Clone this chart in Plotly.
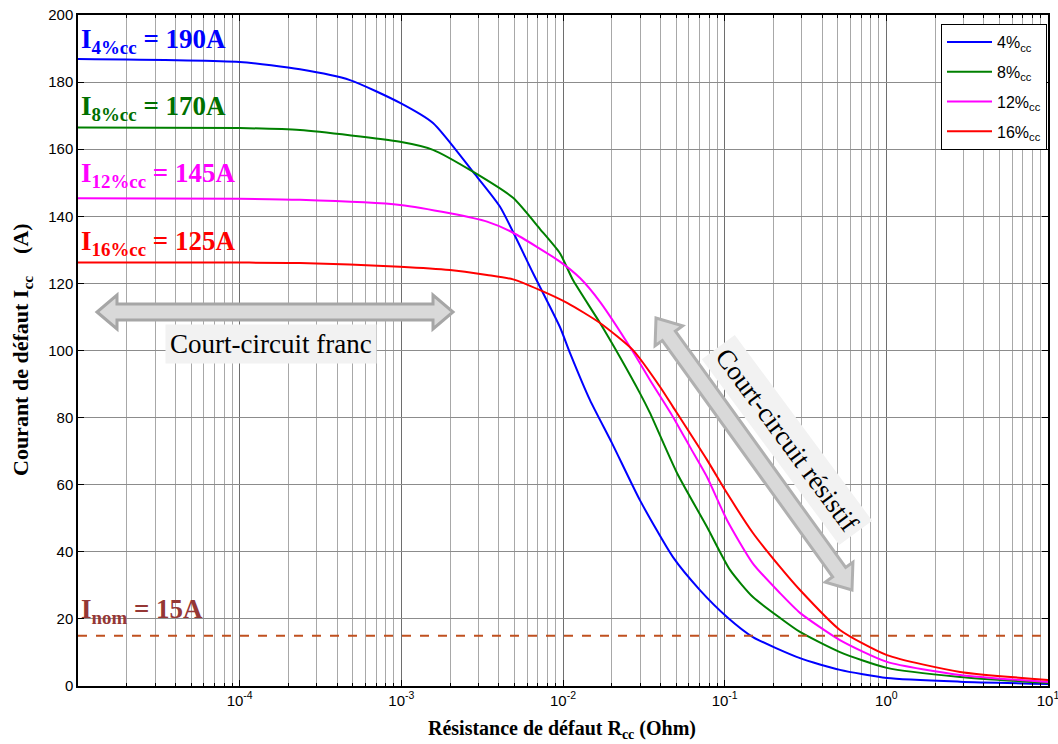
import plotly.graph_objects as go

# ---------------- data ----------------
r_4 = [1e-5, 1e-4, 2.36e-4, 4.81e-4, 9.82e-4, 1.57e-3, 2.77e-3, 4.07e-3, 6.52e-3,
       9.57e-3, 1.104e-2, 1.469e-2, 2.009e-2, 2.99e-2, 4.79e-2, 7.03e-2,
       0.1033, 0.1496, 0.2924, 0.5164, 1.009, 2.858, 10.0]
i_4 = [186.9, 186.0, 183.8, 180.6, 173.8, 167.8, 153.3, 142.9, 123.1,
       107.0, 99.3, 85.2, 72.4, 55.4, 38.4, 28.6,
       20.6, 14.6, 8.3, 4.8, 2.4, 1.3, 0.6]

r_8 = [1e-5, 1e-4, 2.36e-4, 9.82e-4, 1.57e-3, 2.77e-3, 4.91e-3, 7.21e-3, 9.57e-3, 1.153e-2,
       1.694e-2, 2.254e-2, 2.99e-2, 3.45e-2, 5.07e-2, 7.78e-2, 0.1079, 0.1496, 0.2198,
       0.2924, 0.5164, 1.009, 2.858, 10.0]
i_8 = [166.5, 166.3, 165.7, 162.2, 159.8, 153.3, 145.5, 136.2, 129.0, 121.0,
       108.2, 98.0, 87.3, 81.4, 63.5, 47.4, 34.6, 26.5, 20.3,
       16.1, 10.1, 5.4, 2.7, 0.9]

r_12 = [1e-5, 1e-4, 2.36e-4, 9.82e-4, 2.0e-3, 3.39e-3, 4.91e-3, 9.57e-3, 1.274e-2,
        1.694e-2, 2.71e-2, 3.45e-2, 4.79e-2, 6.11e-2, 7.78e-2, 0.1033, 0.1496,
        0.2198, 0.2924, 0.5164, 1.009, 2.858, 10.0]
i_12 = [145.4, 145.2, 144.9, 143.4, 140.9, 138.4, 135.1, 126.5, 121.6,
        114.5, 99.6, 91.2, 80.2, 71.2, 62.3, 49.5, 36.5,
        27.7, 21.8, 13.7, 7.2, 3.3, 1.2]

r_16 = [1e-5, 1e-4, 2.36e-4, 9.82e-4, 2.0e-3, 3.39e-3, 4.91e-3, 7.21e-3, 1.06e-2, 1.694e-2,
        2.71e-2, 3.98e-2, 4.79e-2, 7.78e-2, 0.1033, 0.1496, 0.2198, 0.2924, 0.5164,
        1.009, 2.858, 10.0]
i_16 = [126.2, 126.2, 126.1, 125.0, 124.0, 122.5, 121.2, 118.0, 114.2, 108.2,
        100.1, 89.2, 83.2, 67.4, 57.5, 45.6, 35.5, 28.6, 16.7,
        9.2, 4.2, 1.8]

i_nom = 15
x_limits = [1e-5, 10.0]

series_names = ["4%<sub>cc</sub>", "8%<sub>cc</sub>", "12%<sub>cc</sub>", "16%<sub>cc</sub>"]
series_colors = ["#0000ff", "#008000", "#ff00ff", "#ff0000"]
label_texts = ["<b>I<sub>4%cc</sub> = 190A</b>", "<b>I<sub>8%cc</sub> = 170A</b>",
               "<b>I<sub>12%cc</sub> = 145A</b>", "<b>I<sub>16%cc</sub> = 125A</b>"]
label_colors = ["#0000ff", "#007000", "#ff00ff", "#ff0000"]
x_tickvals = [1e-4, 1e-3, 1e-2, 1e-1, 1, 10]
x_ticktext = ["10<sup>-4</sup>", "10<sup>-3</sup>", "10<sup>-2</sup>", "10<sup>-1</sup>",
              "10<sup>0</sup>", "10<sup>1</sup>"]

# ---------------- geometry (page pixels; body margin removed below) ----------------
W, H = 1058, 744
PX0, PX1, PY0, PY1 = 78, 1048, 15, 686   # plot area


def pp(px, py):
    return (px - PX0) / (PX1 - PX0), (PY1 - py) / (PY1 - PY0)


def arrow_path(ax, ay, bx, by, w, h, L):
    dx, dy = bx - ax, by - ay
    n = (dx * dx + dy * dy) ** 0.5
    ux, uy = dx / n, dy / n
    nx, ny = -uy, ux
    pts = [
        (ax, ay),
        (ax + ux * L + nx * h, ay + uy * L + ny * h),
        (ax + ux * L + nx * w, ay + uy * L + ny * w),
        (bx - ux * L + nx * w, by - uy * L + ny * w),
        (bx - ux * L + nx * h, by - uy * L + ny * h),
        (bx, by),
        (bx - ux * L - nx * h, by - uy * L - ny * h),
        (bx - ux * L - nx * w, by - uy * L - ny * w),
        (ax + ux * L - nx * w, ay + uy * L - ny * w),
        (ax + ux * L - nx * h, ay + uy * L - ny * h),
    ]
    s = ""
    for k, (x, y) in enumerate(pts):
        u, v = pp(x, y)
        s += ("M" if k == 0 else "L") + f"{u:.5f},{v:.5f} "
    return s + "Z"


fig = go.Figure()

for r, i, nm, c in zip([r_4, r_8, r_12, r_16], [i_4, i_8, i_12, i_16], series_names, series_colors):
    fig.add_trace(go.Scatter(x=r, y=i, mode="lines", name=nm, legendgroup=nm,
                             line=dict(color=c, width=2, shape="spline", smoothing=0.6)))

fig.add_trace(go.Scatter(x=x_limits, y=[i_nom, i_nom], mode="lines", showlegend=False,
                         line=dict(color="#c0501f", width=2, dash="dash")))

serif = "Liberation Serif, Times New Roman, serif"
sans = "Liberation Sans, Arial, sans-serif"


def ann(text, px, py, size, color, **kw):
    u, v = pp(px, py)
    d = dict(text=text, x=u, y=v, xref="paper", yref="paper", showarrow=False,
             xanchor=kw.pop("xanchor", "center"), yanchor=kw.pop("yanchor", "middle"),
             font=dict(family=serif, size=size, color=color))
    d.update(kw)
    return d


annotations = []
label_y = [41, 108, 175, 243]
for t, c, yy in zip(label_texts, label_colors, label_y):
    annotations.append(ann(t, 79, yy, 27, c, xanchor="left"))
annotations.append(ann("<b>I<sub>nom</sub> = 15A</b>", 79, 611, 27, "#953735", xanchor="left"))

annotations.append(ann("Court-circuit franc", 271, 344, 27, "black", bgcolor="#f2f2f2", borderpad=4))
annotations.append(ann("Court-circuit résistif", 787, 440, 27, "black", bgcolor="#f2f2f2",
                       borderpad=5, textangle=53.5))

annotations.append(ann("<b>Courant de défaut I<sub>cc</sub>\u00a0\u00a0\u00a0\u00a0(A)</b>", 22, 350, 22,
                       "black", textangle=-90))
annotations.append(ann("<b>Résistance de défaut R<sub>cc</sub> (Ohm)</b>", 562, 729, 20, "black"))

shapes = [
    dict(type="path", path=arrow_path(97, 312, 453, 312, 8, 17, 20), xref="paper", yref="paper",
         fillcolor="#d9d9d9", line=dict(color="#a6a6a6", width=3), layer="above"),
    dict(type="path", path=arrow_path(656, 318, 852, 590, 8, 17, 22), xref="paper", yref="paper",
         fillcolor="#d9d9d9", line=dict(color="#b0b0b0", width=3), layer="above"),
]

minor_vals = [m * 10.0 ** k for k in range(-5, 1) for m in range(2, 10)]

fig.update_layout(
    width=W, height=H,
    margin=dict(l=PX0, r=W - PX1, t=PY0, b=H - PY1, autoexpand=False),
    paper_bgcolor="white", plot_bgcolor="white",
    showlegend=True,
    legend=dict(x=pp(1047, 0)[0], y=pp(0, 24)[1], xanchor="right", yanchor="top",
                bgcolor="white", bordercolor="black", borderwidth=1, tracegroupgap=6,
                itemwidth=45,
                font=dict(family=sans, size=16, color="black")),
    annotations=annotations,
    shapes=shapes,
    xaxis=dict(type="log", range=[-5, 1], tickvals=x_tickvals, ticktext=x_ticktext,
               showline=True, linecolor="black", linewidth=1.5, mirror="allticks",
               ticks="inside", ticklen=6, tickcolor="black", automargin=False,
               ticklabeloverflow="allow",
               showgrid=True, gridcolor="#6e6e6e", gridwidth=1,
               tickfont=dict(family=sans, size=15, color="black"),
               minor=dict(tickvals=minor_vals, ticks="inside", ticklen=3, tickcolor="black",
                          showgrid=True, gridcolor="#a8a8a8", gridwidth=1),
               zeroline=False),
    yaxis=dict(range=[0, 200], dtick=20, showline=True, linecolor="black", linewidth=1.5,
               mirror="allticks", ticks="inside", ticklen=6, tickcolor="black", automargin=False,
               ticklabeloverflow="allow",
               showgrid=True, gridcolor="#8c8c8c", gridwidth=1,
               tickfont=dict(family=sans, size=15, color="black"), zeroline=False),
)

fig.write_html("out.html", config={"displayModeBar": False},
               post_script="document.body.style.margin='0px';document.body.style.overflow='hidden';")
